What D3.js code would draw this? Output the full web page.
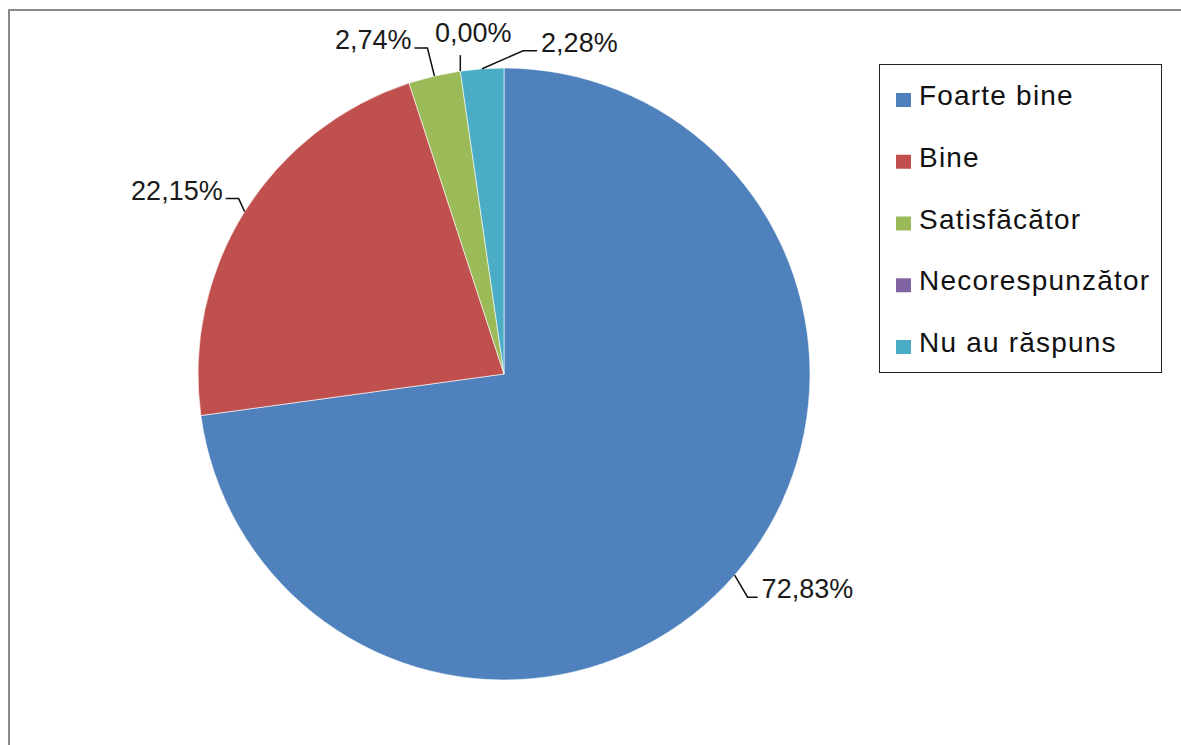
<!DOCTYPE html>
<html>
<head>
<meta charset="utf-8">
<script src="https://cdn.jsdelivr.net/npm/d3@7"></script>
<style>
  body { margin: 0; background: #fff; }
  svg { display: block; }
</style>
</head>
<body>
<div id="chart"></div>
<script>
// data
const categories = ["Foarte bine", "Bine", "Satisfăcător", "Necorespunzător", "Nu au răspuns"];
const values = [72.83, 22.15, 2.74, 0.00, 2.28];
const colors = ["#4F81BD", "#C0504D", "#9BBB59", "#8064A2", "#4BACC6"];

// leader line layout per slice: elbow offset from edge point, horizontal run, side
const labelLayout = [
  { ex: 13, ey: 22, run: 10, side: "right" },
  { ex: -6, ey: -13, run: -13, side: "left" },
  { ex: -7, ey: -28, run: -13, side: "left" },
  { ex: 0, ey: -16, run: 0, side: "top" },
  { ex: 41, ey: -18, run: 14, side: "right" }
];

const width = 1181, height = 745;
const cx = 504, cy = 374, radius = 306;

const svg = d3.select("#chart").append("svg")
    .attr("width", width)
    .attr("height", height);

// outer frame (runs off the right and bottom)
svg.append("rect")
    .attr("x", 9).attr("y", 10)
    .attr("width", width + 20).attr("height", height + 20)
    .attr("fill", "#fff")
    .attr("stroke", "#8a8a8a")
    .attr("stroke-width", 2);

const pie = d3.pie().sort(null).value(d => d);
const arcs = pie(values);
const arc = d3.arc().innerRadius(0).outerRadius(radius);

const g = svg.append("g").attr("transform", `translate(${cx},${cy})`);

g.selectAll("path.slice")
    .data(arcs)
    .join("path")
    .attr("class", "slice")
    .attr("d", arc)
    .attr("fill", (d, i) => colors[i])
    .attr("stroke", (d, i) => d.value > 0 ? "#fff" : "none")
    .attr("stroke-width", 0.6);

// labels with leader lines
const fmt = v => v.toFixed(2).replace(".", ",") + "%";

arcs.forEach((d, i) => {
  const a = (d.startAngle + d.endAngle) / 2;
  const px = Math.sin(a) * radius, py = -Math.cos(a) * radius;
  const L = labelLayout[i];
  const bx = px + L.ex, by = py + L.ey;
  const tx = bx + L.run, ty = by;

  g.append("polyline")
      .attr("points", [[px, py], [bx, by], [tx, ty]].map(p => p.join(",")).join(" "))
      .attr("fill", "none")
      .attr("stroke", "#111")
      .attr("stroke-width", 1.5);

  const t = g.append("text")
      .attr("font-family", "Liberation Sans, Arial, sans-serif")
      .attr("font-size", 27)
      .attr("fill", "#1a1a1a")
      .text(fmt(d.value));

  if (L.side === "right") {
    t.attr("x", tx + 4).attr("y", ty + 1).attr("text-anchor", "start");
  } else if (L.side === "left") {
    t.attr("x", tx - 3).attr("y", ty + 1).attr("text-anchor", "end");
  } else {
    t.attr("x", tx + 13).attr("y", ty - 13).attr("text-anchor", "middle");
  }
});

// legend
const legend = svg.append("g");
legend.append("rect")
    .attr("x", 879.5).attr("y", 64.5)
    .attr("width", 282).attr("height", 308)
    .attr("fill", "#fff")
    .attr("stroke", "#222")
    .attr("stroke-width", 1);

const rowY = d3.scalePoint().domain(categories).range([105, 352]);

const item = legend.selectAll("g.item")
    .data(categories)
    .join("g")
    .attr("class", "item")
    .attr("transform", d => `translate(0,${rowY(d)})`);

item.append("rect")
    .attr("x", 896).attr("y", -12)
    .attr("width", 15).attr("height", 14)
    .attr("fill", (d, i) => colors[i]);

item.append("text")
    .attr("x", 919).attr("y", 0)
    .attr("font-family", "Liberation Sans, Arial, sans-serif")
    .attr("font-size", 28)
    .attr("letter-spacing", 1.2)
    .attr("fill", "#111")
    .text(d => d);
</script>
</body>
</html>
